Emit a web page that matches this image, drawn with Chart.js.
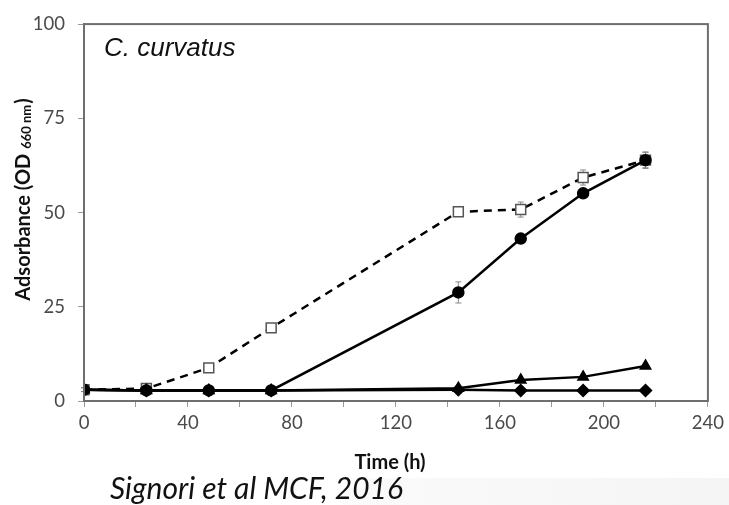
<!DOCTYPE html>
<html>
<head>
<meta charset="utf-8">
<script src="https://cdn.jsdelivr.net/npm/chart.js@4/dist/chart.umd.min.js"></script>
<style>
  html, body { margin: 0; padding: 0; background: #fff; }
  #wrap { width: 729px; height: 505px; position: relative; }
</style>
</head>
<body>
<div id="wrap"><canvas id="growth"></canvas></div>
<script>
// time points (h)
const hours = [0, 24, 48, 72, 144, 168, 192, 216];

// series
const squares   = [3.0, 3.3, 8.8, 19.4, 50.2, 50.8, 59.3, 63.9];
const circles   = [3.0, 2.8, 2.8, 2.8, 28.8, 43.1, 55.1, 63.9];
const triangles = [3.0, 2.8, 2.8, 2.8, 3.4, 5.6, 6.4, 9.3];
const diamonds  = [3.0, 2.8, 2.8, 2.8, 3.0, 2.8, 2.8, 2.8];

// error bars (+/-)
const squaresErr = [0.5, 1.0, 0.5, 0.6, 1.0, 2.0, 2.0, 2.0];
const circlesErr = [0.5, 0.5, 0.3, 0.5, 2.8, 0.5, 0.6, 2.2];

const xTicks = [0, 40, 80, 120, 160, 200, 240];
const yTicks = [0, 25, 50, 75, 100];

function pts(arr) {
  return hours.map((h, i) => ({ x: h, y: arr[i] }));
}

// drawn under the markers
const errorBars = {
  id: 'errorBars',
  beforeDatasetsDraw(chart) {
    const ctx = chart.ctx;
    const xs = chart.scales.x, ys = chart.scales.y;
    const sets = [[squares, squaresErr], [circles, circlesErr]];
    ctx.save();
    ctx.strokeStyle = '#888';
    ctx.lineWidth = 1;
    sets.forEach(([vals, errs]) => {
      vals.forEach((v, i) => {
        const px = xs.getPixelForValue(hours[i]);
        const top = ys.getPixelForValue(v + errs[i]);
        const bot = ys.getPixelForValue(v - errs[i]);
        ctx.beginPath();
        ctx.moveTo(px, top); ctx.lineTo(px, bot);
        ctx.moveTo(px - 3, top); ctx.lineTo(px + 3, top);
        ctx.moveTo(px - 3, bot); ctx.lineTo(px + 3, bot);
        ctx.stroke();
      });
    });
    ctx.restore();
  }
};

const decorations = {
  id: 'decorations',
  beforeDraw(chart) {
    const ctx = chart.ctx;
    ctx.save();
    const g = ctx.createLinearGradient(330, 0, 729, 0);
    g.addColorStop(0, 'rgba(248,248,248,0)');
    g.addColorStop(0.1, 'rgba(250,250,250,1)');
    g.addColorStop(1, 'rgba(245,245,245,1)');
    ctx.fillStyle = g;
    ctx.fillRect(330, 478, 399, 27);
    ctx.restore();
  },
  afterDraw(chart) {
    const ctx = chart.ctx;
    const a = chart.chartArea;
    ctx.save();
    // plot frame
    ctx.strokeStyle = '#6e6e6e';
    ctx.lineWidth = 2;
    ctx.strokeRect(a.left, a.top, a.right - a.left, a.bottom - a.top);

    // species label
    ctx.fillStyle = '#111';
    ctx.font = 'italic 26px "Liberation Sans", Arial, sans-serif';
    ctx.textBaseline = 'middle';
    ctx.textAlign = 'left';
    ctx.fillText('C. curvatus', 104, 49);

    // y axis title with subscript
    ctx.translate(23, 200);
    ctx.rotate(-Math.PI / 2);
    const big = 'bold 20px Lato, "Open Sans", sans-serif';
    const small = 'bold 13px Lato, "Open Sans", sans-serif';
    const p1 = 'Adsorbance (OD ', p2 = '660 nm', p3 = ')';
    ctx.font = big; const w1 = ctx.measureText(p1).width; const w3 = ctx.measureText(p3).width;
    ctx.font = small; const w2 = ctx.measureText(p2).width;
    let x0 = -(w1 + w2 + w3) / 2;
    ctx.fillStyle = '#111';
    ctx.textBaseline = 'alphabetic';
    ctx.font = big; ctx.fillText(p1, x0, 7);
    ctx.font = small; ctx.fillText(p2, x0 + w1, 8);
    ctx.font = big; ctx.fillText(p3, x0 + w1 + w2 + 1, 7);
    ctx.restore();

    // x axis title and citation
    ctx.save();
    ctx.fillStyle = '#111';
    ctx.textAlign = 'center';
    ctx.textBaseline = 'middle';
    ctx.font = 'bold 20px Lato, "Open Sans", sans-serif';
    ctx.fillText('Time (h)', 390, 463);
    ctx.textAlign = 'left';
    ctx.font = 'italic 30px Lato, "Open Sans", sans-serif';
    ctx.fillText('Signori et al MCF, 2016', 110, 489, 296);
    ctx.restore();
  }
};

const common = {
  borderColor: '#000',
  borderWidth: 2.5,
  pointBorderWidth: 1.5,
  tension: 0,
  showLine: true
};

const growth_config = {
  type: 'scatter',
  data: {
    datasets: [
      Object.assign({}, common, {
        label: 'diamond',
        data: pts(diamonds),
        pointStyle: 'rectRot',
        pointRadius: 6,
        pointBackgroundColor: '#000',
        pointBorderColor: '#000'
      }),
      Object.assign({}, common, {
        label: 'triangle',
        data: pts(triangles),
        pointStyle: 'triangle',
        pointRadius: 6,
        pointBackgroundColor: '#000',
        pointBorderColor: '#000'
      }),
      Object.assign({}, common, {
        label: 'circle',
        data: pts(circles),
        pointStyle: 'circle',
        pointRadius: 5.5,
        pointBackgroundColor: '#000',
        pointBorderColor: '#000'
      }),
      Object.assign({}, common, {
        label: 'square',
        data: pts(squares),
        borderDash: [8, 6],
        pointStyle: 'rect',
        pointRadius: 7,
        pointBorderWidth: 1.5,
        pointBackgroundColor: '#fff',
        pointBorderColor: '#555'
      })
    ]
  },
  options: {
    responsive: true,
    maintainAspectRatio: false,
    animation: false,
    layout: { padding: { top: 16, right: 16, left: 0, bottom: 0 } },
    plugins: {
      legend: { display: false },
      tooltip: { enabled: false }
    },
    scales: {
      x: {
        type: 'linear',
        min: 0, max: 240,
        afterFit(s) { s.height = 104; },
        afterBuildTicks(s) {
          s.ticks = [];
          for (let v = 0; v <= 240; v += 20) s.ticks.push({ value: v });
        },
        ticks: {
          color: '#4a4a4a',
          font: { family: 'Lato, "Open Sans", sans-serif', size: 18.5 },
          padding: 5,
          maxRotation: 0,
          autoSkip: false,
          callback: v => xTicks.includes(v) ? String(v) : ''
        },
        grid: { drawOnChartArea: false, color: '#999', tickLength: 6 },
        border: { color: '#6e6e6e', width: 2 }
      },
      y: {
        type: 'linear',
        min: 0, max: 100,
        afterFit(s) { s.width = 84; },
        afterBuildTicks(s) { s.ticks = yTicks.map(v => ({ value: v })); },
        ticks: {
          color: '#4a4a4a',
          font: { family: 'Lato, "Open Sans", sans-serif', size: 18.5 },
          padding: 13
        },
        grid: { drawOnChartArea: false, color: '#999', tickLength: 6 },
        border: { color: '#6e6e6e', width: 2 }
      }
    }
  },
  plugins: [errorBars, decorations]
};

const growth_chart = new Chart(document.getElementById('growth'), growth_config);
</script>
</body>
</html>
